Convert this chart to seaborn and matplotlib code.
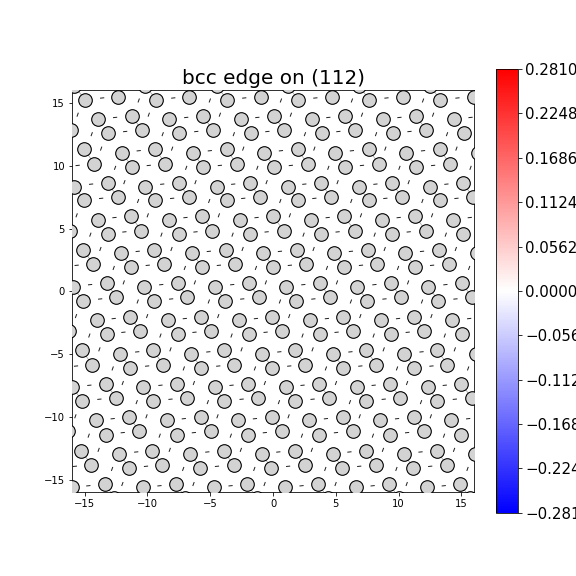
import numpy as np
import pandas as pd
import matplotlib
matplotlib.use("Agg")
import matplotlib.pyplot as plt
import seaborn as sns

# atom rows, one y per row and the x values along it
atom_y = [16.38, 15.23, 15.49, 13.69, 13.96, 12.58, 12.84, 11.31, 11.04, 10.14, 9.92, 8.33, 8.60,
          7.27, 7.51, 5.68, 5.96, 4.56, 4.83, 3.29, 3.03, 2.20, 1.93, 0.37, 0.64, -0.75, -0.45,
          -2.29, -2.02, -3.14, -3.40, -4.71, -4.97, -5.83, -6.07, -7.60, -7.36, -8.72, -8.48,
          -10.25, -10.01, -11.15, -11.40, -12.68, -12.93, -13.83, -14.04, -15.58, -15.34, -16.43]
atom_x = [
    [-15.81, -10.15, -4.49, 1.17, 6.83, 12.49],
    [-14.96, -9.30, -3.65, 2.01, 7.67, 13.32],
    [-12.30, -6.65, -0.99, 4.67, 10.32, 15.98],
    [-13.90, -8.24, -2.58, 3.07, 8.73, 14.39],
    [-11.24, -5.59, 0.07, 5.73, 11.38],
    [-13.10, -7.45, -1.79, 3.87, 9.52, 15.18],
    [-16.09, -10.44, -4.78, 0.88, 6.53, 12.19],
    [-15.02, -9.36, -3.70, 1.95, 7.61, 13.27],
    [-12.01, -6.35, -0.70, 4.96, 10.62, 16.28],
    [-14.22, -8.56, -2.90, 2.75, 8.41, 14.07],
    [-11.24, -5.59, 0.07, 5.73, 11.38],
    [-15.81, -10.15, -4.49, 1.17, 6.83, 12.49],
    [-13.16, -7.50, -1.84, 3.81, 9.47, 15.13],
    [-15.02, -9.36, -3.70, 1.95, 7.61, 13.27],
    [-12.36, -6.70, -1.05, 4.61, 10.27, 15.92],
    [-13.95, -8.29, -2.63, 3.02, 8.68, 14.34],
    [-11.29, -5.63, 0.02, 5.68, 11.34],
    [-13.16, -7.50, -1.84, 3.81, 9.47, 15.13],
    [-16.13, -10.48, -4.82, 0.84, 6.49, 12.15],
    [-15.10, -9.44, -3.78, 1.87, 7.53, 13.19],
    [-12.09, -6.43, -0.77, 4.88, 10.54, 16.20],
    [-14.32, -8.66, -3.00, 2.65, 8.31, 13.97],
    [-11.29, -5.63, 0.02, 5.68, 11.34],
    [-15.92, -10.26, -4.61, 1.05, 6.71, 12.36],
    [-13.24, -7.58, -1.92, 3.73, 9.39, 15.05],
    [-15.12, -9.46, -3.80, 1.85, 7.51, 13.17],
    [-12.46, -6.81, -1.15, 4.51, 10.16, 15.82],
    [-14.04, -8.38, -2.72, 2.93, 8.59, 14.25],
    [-11.37, -5.71, -0.06, 5.60, 11.26],
    [-16.23, -10.57, -4.92, 0.74, 6.40, 12.05],
    [-13.24, -7.58, -1.92, 3.73, 9.39, 15.05],
    [-15.20, -9.54, -3.88, 1.77, 7.43, 13.09],
    [-12.17, -6.51, -0.85, 4.80, 10.46, 16.12],
    [-14.40, -8.74, -3.09, 2.57, 8.23, 13.88],
    [-11.37, -5.71, -0.06, 5.60, 11.26],
    [-15.97, -10.31, -4.65, 1.00, 6.66, 12.32],
    [-13.29, -7.63, -1.97, 3.68, 9.34, 15.00],
    [-15.20, -9.54, -3.88, 1.77, 7.43, 13.09],
    [-12.49, -6.83, -1.17, 4.48, 10.14, 15.80],
    [-14.08, -8.43, -2.77, 2.89, 8.54, 14.20],
    [-11.43, -5.77, -0.11, 5.54, 11.20],
    [-16.29, -10.63, -4.97, 0.68, 6.34, 12.00],
    [-13.29, -7.63, -1.97, 3.68, 9.34, 15.00],
    [-15.26, -9.60, -3.94, 1.71, 7.37, 13.03],
    [-12.22, -6.57, -0.91, 4.75, 10.40, 16.06],
    [-14.46, -8.80, -3.14, 2.51, 8.17, 13.83],
    [-11.45, -5.79, -0.14, 5.52, 11.18],
    [-16.03, -10.37, -4.71, 0.94, 6.60, 12.26],
    [-13.36, -7.71, -2.05, 3.61, 9.27, 14.92],
    [-12.62, -6.97, -1.31, 4.35, 10.00, 15.66],
]
# rows whose neighbouring atoms have the faint grey link between them
linked_rows = [(0, 1), (4, 6), (7, 9), (8, 10), (11, 13), (12, 14), (16, 18), (19, 21), (20, 22),
               (23, 25), (24, 26), (28, 29), (31, 33), (32, 34), (35, 37), (36, 38), (40, 41),
               (43, 45), (44, 46), (48, 49)]

# nearly flat dashes
flat_y = [15.39, 13.84, 12.72, 11.19, 10.02, 8.53, 7.40, 5.87, 4.73, 3.18, 2.07, 0.53, -0.61, -2.17,
          -3.26, -4.82, -5.95, -7.48, -8.59, -10.14, -11.25, -12.79, -13.93, -15.48]
flat_x = [
    [-13.60, -7.94, -2.29, 3.37, 9.03, 14.68],
    [-12.57, -6.91, -1.25, 4.40, 10.06, 15.72],
    [-11.77, -6.11, -0.45, 5.20, 10.86],
    [-10.69, -5.03, 0.63, 6.28, 11.94],
    [-15.55, -9.89, -4.23, 1.42, 7.08, 12.74],
    [-14.48, -8.82, -3.17, 2.49, 8.15, 13.80],
    [-13.68, -8.03, -2.37, 3.29, 8.94, 14.60],
    [-12.62, -6.97, -1.31, 4.35, 10.00, 15.66],
    [-11.83, -6.17, -0.51, 5.14, 10.80],
    [-10.77, -5.11, 0.55, 6.20, 11.86],
    [-15.63, -9.97, -4.31, 1.34, 7.00, 12.66],
    [-14.56, -8.90, -3.25, 2.41, 8.07, 13.72],
    [-13.76, -8.11, -2.45, 3.21, 8.87, 14.52],
    [-12.68, -7.02, -1.36, 4.29, 9.95, 15.61],
    [-11.91, -6.25, -0.59, 5.06, 10.72],
    [-10.81, -5.15, 0.50, 6.16, 11.82],
    [-15.68, -10.02, -4.36, 1.29, 6.95, 12.61],
    [-14.62, -8.96, -3.30, 2.35, 8.01, 13.67],
    [-13.82, -8.16, -2.50, 3.15, 8.81, 14.47],
    [-12.76, -7.10, -1.44, 4.21, 9.87, 15.53],
    [-11.96, -6.30, -0.65, 5.01, 10.67],
    [-10.89, -5.23, 0.42, 6.08, 11.74],
    [-15.77, -10.11, -4.46, 1.20, 6.86, 12.51],
    [-14.70, -9.04, -3.38, 2.27, 7.93, 13.59],
]

# steep dashes
steep_y = [15.19, 14.06, 12.51, 11.36, 9.83, 8.69, 7.19, 6.05, 4.51, 3.37, 1.86, 0.71, -0.81, -1.97,
           -3.52, -4.62, -6.14, -7.30, -8.82, -9.95, -11.49, -12.62, -14.14, -15.34]
steep_x = [
    [-10.69, -5.03, 0.63, 6.28, 11.94],
    [-15.55, -9.89, -4.23, 1.42, 7.08, 12.74],
    [-14.43, -8.78, -3.12, 2.54, 8.20, 13.85],
    [-13.68, -8.03, -2.37, 3.29, 8.94, 14.60],
    [-12.57, -6.91, -1.25, 4.40, 10.06, 15.72],
    [-11.83, -6.17, -0.51, 5.14, 10.80],
    [-10.74, -5.08, 0.58, 6.23, 11.89],
    [-15.63, -9.97, -4.31, 1.34, 7.00, 12.66],
    [-14.54, -8.88, -3.22, 2.43, 8.09, 13.75],
    [-13.74, -8.08, -2.42, 3.23, 8.89, 14.55],
    [-12.68, -7.02, -1.36, 4.29, 9.95, 15.61],
    [-11.88, -6.22, -0.57, 5.09, 10.75],
    [-10.77, -5.11, 0.55, 6.20, 11.86],
    [-15.68, -10.02, -4.36, 1.29, 6.95, 12.61],
    [-14.62, -8.96, -3.30, 2.35, 8.01, 13.67],
    [-13.82, -8.16, -2.50, 3.15, 8.81, 14.47],
    [-12.76, -7.10, -1.44, 4.21, 9.87, 15.53],
    [-11.96, -6.30, -0.65, 5.01, 10.67],
    [-10.85, -5.19, 0.47, 6.12, 11.78],
    [-15.73, -10.07, -4.42, 1.24, 6.90, 12.56],
    [-14.67, -9.02, -3.36, 2.30, 7.95, 13.61],
    [-13.88, -8.22, -2.56, 3.09, 8.75, 14.41],
    [-12.81, -7.15, -1.49, 4.16, 9.82, 15.48],
    [-11.99, -6.33, -0.67, 4.98, 10.64],
]

cbar_ticks = [0.281, 0.2248, 0.1686, 0.1124, 0.0562, 0.0, -0.0562, -0.1124, -0.1686, -0.2248, -0.281]
cbar_labels = ["0.2810", "0.2248", "0.1686", "0.1124", "0.0562", "0.0000",
               "\u22120.0562", "\u22120.1124", "\u22120.1686", "\u22120.2248", "\u22120.2810"]

atoms = pd.DataFrame({
    "x": [x for row, y in zip(atom_x, atom_y) for x in row],
    "y": [y for row, y in zip(atom_x, atom_y) for x in row],
})


def flatten(rows_x, rows_y):
    xs = [x for row in rows_x for x in row]
    ys = [y for row, y in zip(rows_x, rows_y) for x in row]
    return np.array(xs), np.array(ys)


fig = plt.figure(figsize=(8, 8), dpi=72)
ax = fig.add_axes([0.125, 0.1453, 0.698, 0.6979])

# links go underneath the atoms
for a, b in linked_rows:
    for xa in atom_x[a]:
        for xb in atom_x[b]:
            if 0.5 < xb - xa < 1.2:
                ax.plot([xa, xb], [atom_y[a], atom_y[b]], color="#a8a8a8", lw=0.8, zorder=1)

for rows_x, rows_y, angle in [(flat_x, flat_y, 6), (steep_x, steep_y, 70)]:
    xs, ys = flatten(rows_x, rows_y)
    ln = np.full(len(xs), 4.2)
    ax.quiver(xs, ys, ln * np.cos(np.radians(angle)), ln * np.sin(np.radians(angle)),
              angles="uv", scale_units="dots", scale=1, units="dots", width=1.0,
              headwidth=1, headlength=0, headaxislength=0, pivot="mid", color="#222222", zorder=2)

sns.scatterplot(data=atoms, x="x", y="y", s=185, color="lightgray", edgecolor="black",
                linewidth=1.1, legend=False, zorder=3, ax=ax)

ax.set_xlim(-16, 16)
ax.set_ylim(-16, 16)
ax.set_xticks([-15, -10, -5, 0, 5, 10, 15])
ax.set_yticks([-15, -10, -5, 0, 5, 10, 15])
ax.set_xlabel("")
ax.set_ylabel("")
ax.set_title("bcc edge on (112)", fontsize=20)

cax = fig.add_axes([0.8616, 0.11, 0.0385, 0.77])
sm = plt.cm.ScalarMappable(cmap="bwr", norm=plt.Normalize(-0.281, 0.281))
cbar = fig.colorbar(sm, cax=cax)
cbar.set_ticks(cbar_ticks)
cbar.set_ticklabels(cbar_labels)
cbar.ax.tick_params(labelsize=15)

fig.savefig("out.png", dpi=72)
